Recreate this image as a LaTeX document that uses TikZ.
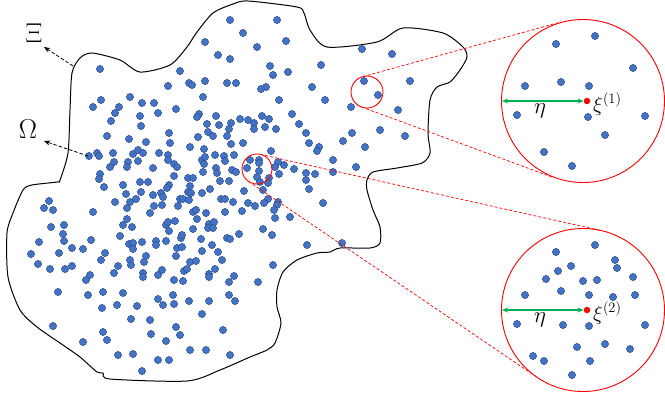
\documentclass[tikz,border=0pt]{standalone}
\usepackage{graphicx}
\usetikzlibrary{arrows.meta}
\definecolor{dotfill}{RGB}{68,114,196}
\definecolor{dotedge}{RGB}{47,82,143}
\definecolor{arrgreen}{RGB}{0,176,80}
\tikzset{
  ptdot/.style={fill=dotfill,draw=dotedge,line width=0.5bp},
  zoomring/.style={draw=red,line width=0.9bp},
  zoomlink/.style={draw=red,line width=0.7bp,dash pattern=on 3bp off 2bp},
  lblarrow/.style={draw=black,line width=0.8bp,dash pattern=on 3.5bp off 2bp,-{Stealth[length=6bp,width=5bp]}},
  etaarrow/.style={draw=arrgreen,line width=1.2bp,{Stealth[length=6bp,width=5bp]}-{Stealth[length=6bp,width=5bp]}},
  reddot/.style={circle,fill=red,inner sep=0pt,minimum size=6.5bp},
  outline/.style={draw=black,line width=1bp},
  mathlbl/.style={font=\fontsize{20.74}{21}\selectfont},
  biglbl/.style={font=\fontsize{24.88}{25}\selectfont}
}
\begin{document}
\begin{tikzpicture}[x=1bp,y=-1bp]
\useasboundingbox (0,0) rectangle (665,399);
% domain outline
\draw[outline] plot[smooth cycle,tension=0.45] coordinates{
(72,73) (80,58) (92,53) (120,60) (140,72) (170,65) (187,47) (197,32) (213,13) (233,4) (248,1)
(297,7) (304,13) (310,30) (327,47) (377,42) (403,28) (443,33) (463,47) (467,57) (460,70)
(450,82) (437,87) (430,100) (428,133) (430,153) (422,163) (397,168) (373,172) (367,180)
(367,190) (373,210) (380,227) (380,243) (370,248) (340,248) (330,252) (317,253) (297,260)
(283,272) (277,290) (277,307) (281,323) (275,343) (267,350) (250,357) (220,370) (187,381)
(110,379) (103,373) (97,372) (80,357) (60,343) (37,327) (20,310) (8,277) (7,233) (13,213)
(23,190) (32,185) (57,182) (60,180) (68,153) (70,110)};
% sample points
\foreach \x/\y in {
230/20,243/33,205/42,218/55,230/59,100/69,180/71,189/83,192/85,205/81,227/83,236/83,168/86,
203/97,101/100,93/107,130/97,142/103,154/103,119/107,115/113,176/109,158/113,111/121,140/116,
141/126,199/114,197/117,216/116,207/124,219/125,231/123,240/119,229/129,248/120,107/136,
129/139,146/142,169/133,170/143,198/137,208/132,213/136,227/136,231/144,243/143,190/147,
204/149,89/156,97/153,99/156,113/153,133/154,138/150,143/153,159/153,168/155,168/160,114/162,
110/167,128/162,127/167,138/161,153/168,174/164,177/167,202/160,205/157,204/164,215/155,
224/156,225/161,234/155,216/168,217/173,203/172,232/170,236/172,247/168,100/174,99/179,
104/187,123/185,140/182,148/182,174/176,188/178,193/178,190/186,169/185,167/188,220/181,
229/181,210/189,244/191,126/194,141/192,153/195,161/193,163/197,188/192,191/193,202/193,
49/201,
277/20,286/41,257/47,362/49,392/54,270/66,288/72,273/75,321/65,266/87,261/89,312/87,279/100,
325/100,364/81,378/95,410/81,351/107,398/110,292/114,262/116,269/119,254/123,254/129,265/127,
276/129,299/124,306/133,380/130,405/136,352/133,343/141,309/143,365/147,319/147,317/151,
271/151,333/160,278/162,284/165,356/167,294/169,333/172,306/173,315/174,279/174,275/167,
250/160,259/160,259/163,259/171,257/177,269/178,268/183,260/182,306/180,263/190,309/189,
268/199,
44/208,53/210,93/212,115/202,130/202,136/199,127/208,154/206,150/213,162/205,180/199,183/199,
189/200,178/206,193/212,196/210,206/213,197/219,221/199,225/199,233/202,225/212,242/211,
248/203,127/219,123/225,132/227,166/225,168/222,175/221,169/231,193/229,209/224,214/222,
208/228,213/228,51/227,64/225,63/234,39/242,64/241,91/240,120/236,142/242,156/241,156/245,
166/241,181/238,182/235,201/239,212/245,227/238,230/239,239/234,129/244,133/243,133/249,
177/248,182/247,31/254,59/253,72/248,83/249,105/253,101/260,146/256,144/262,130/260,176/256,
202/251,218/252,222/260,190/262,196/261,38/264,50/269,65/269,72/266,118/266,131/265,114/273,
143/273,143/277,162/270,158/275,184/271,187/269,209/274,209/277,215/269,234/276,90/275,
86/280,174/280,183/281,229/282,58/292,88/295,103/292,123/293,173/295,229/295,102/308,117/305,
137/306,158/299,163/305,174/304,189/301,209/301,235/301,131/319,150/320,202/314,53/326,
176/327,103/332,151/334,180/335,223/330,107/340,83/342,166/341,118/355,133/354,190/350,
206/350,230/355,158/360,169/360,142/371,
255/206,264/203,278/202,277/205,274/210,275/218,290/217,323/203,263/229,272/235,307/245,
342/243,273/265,258/282,
% inset 1
556/44,595/36,633/68,525/86,561/82,589/86,517/115,588/117,645/116,605/135,544/152,572/166,
% inset 2
595/245,556/252,615/260,617/268,558/271,571/266,546/279,583/281,597/280,633/277,525/295,
561/291,589/295,613/297,635/295,517/324,563/325,589/326,645/325,577/347,605/344,630/349,
533/356,544/361,590/361,572/375}
  \filldraw[ptdot] (\x,\y) circle[radius=3.6bp];
% zoom rings
\node[circle,zoomring,minimum size=32bp,inner sep=0pt] (s1) at (367,92) {};
\node[circle,zoomring,minimum size=30bp,inner sep=0pt] (s2) at (257,169) {};
\node[circle,zoomring,minimum size=163bp,inner sep=0pt] (b1) at (583,101) {};
\node[circle,zoomring,minimum size=163bp,inner sep=0pt] (b2) at (583,310) {};
% tangent points
\coordinate (s1t) at (362.8,76.6);
\coordinate (b1t) at (561.2,21.9);
\coordinate (s1b) at (361.5,107.0);
\coordinate (b1b) at (554.7,178.0);
\coordinate (s2t) at (260.3,154.4);
\coordinate (b2t) at (600.8,230.5);
\coordinate (s2b) at (248.6,181.4);
\coordinate (b2b) at (537.2,377.4);
\draw[zoomlink] (s1t) -- (b1t);
\draw[zoomlink] (s1b) -- (b1b);
\draw[zoomlink] (s2t) -- (b2t);
\draw[zoomlink] (s2b) -- (b2b);
% centres and radii
\node[reddot] (c1) at (587,101) {};
\node[reddot] (c2) at (587,310) {};
\coordinate (e1) at (502,101);
\coordinate (e2) at (502,310);
\draw[etaarrow] (e1) -- (c1.west);
\draw[etaarrow] (e2) -- (c2.west);
\node[mathlbl] (eta1) at (540,111) {\scalebox{1.1}{$\eta$}};
\node[mathlbl] (eta2) at (540,320) {\scalebox{1.1}{$\eta$}};
\node[mathlbl,anchor=west,inner sep=0pt] (xi1) at (593,104) {$\xi^{(1)}$};
\node[mathlbl,anchor=west,inner sep=0pt] (xi2) at (593,313) {$\xi^{(2)}$};
% domain labels
\node[biglbl] (Xi) at (34,33) {\scalebox{1.1}{$\Xi$}};
\node[biglbl] (Om) at (28,129) {\scalebox{1.1}{$\Omega$}};
\coordinate (xis) at (73,66);
\coordinate (oms) at (88,156);
\draw[lblarrow] (xis) -- (44,47);
\draw[lblarrow] (oms) -- (44,141);
\end{tikzpicture}
\end{document}
